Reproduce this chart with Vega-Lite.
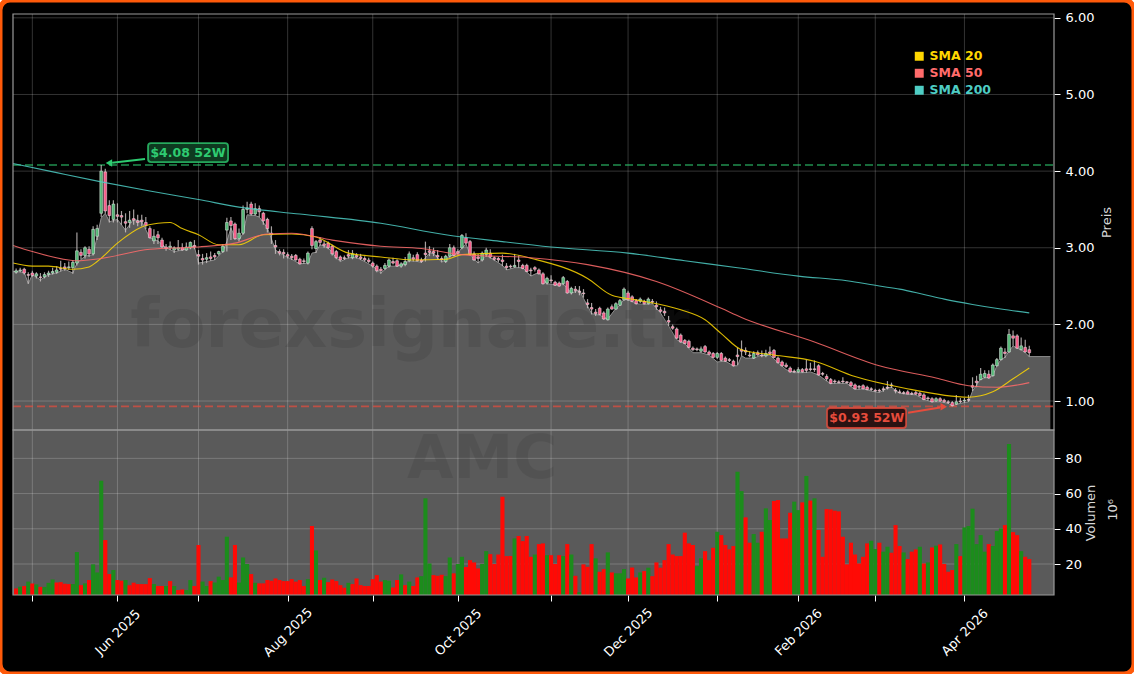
{"$schema":"https://vega.github.io/schema/vega-lite/v6.json","width":1134,"height":674,"autosize":"none","padding":0,"background":"#ffffff",
"config":{"view":{"fill":"#000000","stroke":"#ff5a0a","strokeWidth":5,"cornerRadius":10},"font":"DejaVu Sans"},
"datasets":{
"candles":[
{"i":0,"o":2.68,"h":2.73,"l":2.66,"c":2.7,"v":6.1,"u":0},{"i":1,"o":2.7,"h":2.74,"l":2.68,"c":2.71,"v":7.1,"u":1},{"i":2,"o":2.72,"h":2.74,"l":2.65,"c":2.67,"v":7.5,"u":0},{"i":3,"o":2.65,"h":2.68,"l":2.53,"c":2.64,"v":10,"u":1},{"i":4,"o":2.67,"h":2.7,"l":2.62,"c":2.64,"v":9,"u":0},{"i":5,"o":2.63,"h":2.68,"l":2.6,"c":2.66,"v":8.4,"u":1},{"i":6,"o":2.62,"h":2.67,"l":2.56,"c":2.61,"v":7,"u":0},{"i":7,"o":2.62,"h":2.68,"l":2.6,"c":2.65,"v":7,"u":1},{"i":8,"o":2.65,"h":2.7,"l":2.62,"c":2.67,"v":9.3,"u":1},{"i":9,"o":2.67,"h":2.74,"l":2.65,"c":2.69,"v":11.2,"u":1},
{"i":10,"o":2.68,"h":2.76,"l":2.66,"c":2.71,"v":9.5,"u":0},{"i":11,"o":2.73,"h":2.83,"l":2.69,"c":2.72,"v":9.7,"u":0},{"i":12,"o":2.75,"h":2.8,"l":2.7,"c":2.73,"v":8.8,"u":0},{"i":13,"o":2.74,"h":2.82,"l":2.71,"c":2.75,"v":8.6,"u":0},{"i":14,"o":2.74,"h":2.84,"l":2.66,"c":2.81,"v":8.6,"u":1},{"i":15,"o":2.8,"h":3.2,"l":2.77,"c":2.96,"v":26.8,"u":1},{"i":16,"o":2.94,"h":2.98,"l":2.85,"c":2.9,"v":8,"u":0},{"i":17,"o":2.9,"h":3.02,"l":2.86,"c":3,"v":9,"u":1},{"i":18,"o":2.98,"h":3.02,"l":2.88,"c":2.92,"v":10.9,"u":0},{"i":19,"o":2.92,"h":3.28,"l":2.9,"c":3.24,"v":19.8,"u":1},
{"i":20,"o":3.15,"h":3.3,"l":3.1,"c":3.25,"v":15.2,"u":1},{"i":21,"o":3.45,"h":4.08,"l":3.4,"c":4.0,"v":67.3,"u":1},{"i":22,"o":3.99,"h":4.03,"l":3.45,"c":3.48,"v":33.6,"u":0},{"i":23,"o":3.55,"h":3.62,"l":3.33,"c":3.42,"v":14.3,"u":0},{"i":24,"o":3.37,"h":3.62,"l":3.33,"c":3.57,"v":16.6,"u":1},{"i":25,"o":3.43,"h":3.58,"l":3.33,"c":3.41,"v":10.9,"u":0},{"i":26,"o":3.42,"h":3.48,"l":3.3,"c":3.4,"v":10.5,"u":0},{"i":27,"o":3.34,"h":3.45,"l":3.2,"c":3.32,"v":10.9,"u":1},{"i":28,"o":3.33,"h":3.48,"l":3.26,"c":3.36,"v":8,"u":0},{"i":29,"o":3.38,"h":3.5,"l":3.3,"c":3.36,"v":9.4,"u":0},
{"i":30,"o":3.35,"h":3.43,"l":3.28,"c":3.33,"v":8.6,"u":0},{"i":31,"o":3.36,"h":3.43,"l":3.28,"c":3.34,"v":8.6,"u":0},{"i":32,"o":3.33,"h":3.4,"l":3.24,"c":3.29,"v":8.6,"u":0},{"i":33,"o":3.25,"h":3.28,"l":3.12,"c":3.13,"v":12,"u":0},{"i":34,"o":3.09,"h":3.24,"l":3.05,"c":3.15,"v":8.6,"u":1},{"i":35,"o":3.17,"h":3.22,"l":3.05,"c":3.13,"v":7.5,"u":0},{"i":36,"o":3.1,"h":3.13,"l":3,"c":3.01,"v":7.5,"u":0},{"i":37,"o":3.01,"h":3.05,"l":2.96,"c":2.99,"v":7.5,"u":1},{"i":38,"o":3,"h":3.08,"l":2.97,"c":3.02,"v":10.3,"u":0},{"i":39,"o":2.97,"h":3.02,"l":2.93,"c":3,"v":7.5,"u":1},
{"i":40,"o":2.98,"h":3.1,"l":2.96,"c":3,"v":5.2,"u":0},{"i":41,"o":3,"h":3.06,"l":2.96,"c":2.97,"v":5.6,"u":0},{"i":42,"o":2.97,"h":3.07,"l":2.96,"c":3.01,"v":5.2,"u":1},{"i":43,"o":3,"h":3.08,"l":2.98,"c":3.07,"v":10.9,"u":1},{"i":44,"o":3.03,"h":3.1,"l":2.98,"c":3.01,"v":7.5,"u":0},{"i":45,"o":2.91,"h":2.97,"l":2.78,"c":2.89,"v":30.8,"u":0},{"i":46,"o":2.86,"h":2.92,"l":2.78,"c":2.84,"v":10,"u":1},{"i":47,"o":2.85,"h":2.93,"l":2.8,"c":2.87,"v":7.5,"u":1},{"i":48,"o":2.88,"h":2.95,"l":2.83,"c":2.86,"v":10.3,"u":0},{"i":49,"o":2.9,"h":2.93,"l":2.84,"c":2.88,"v":9.5,"u":1},
{"i":50,"o":2.92,"h":2.96,"l":2.9,"c":2.95,"v":12.8,"u":1},{"i":51,"o":2.95,"h":3.05,"l":2.93,"c":3.02,"v":10.9,"u":1},{"i":52,"o":3.23,"h":3.39,"l":2.95,"c":3.33,"v":35.5,"u":1},{"i":53,"o":3.35,"h":3.4,"l":3.1,"c":3.29,"v":12.4,"u":0},{"i":54,"o":3.31,"h":3.33,"l":3.1,"c":3.12,"v":30.8,"u":0},{"i":55,"o":3.12,"h":3.25,"l":3.08,"c":3.19,"v":9.5,"u":1},{"i":56,"o":3.19,"h":3.55,"l":3.17,"c":3.5,"v":23.7,"u":1},{"i":57,"o":3.5,"h":3.6,"l":3.45,"c":3.52,"v":20,"u":1},{"i":58,"o":3.57,"h":3.6,"l":3.42,"c":3.44,"v":14.3,"u":0},{"i":59,"o":3.44,"h":3.58,"l":3.42,"c":3.51,"v":9.3,"u":1},
{"i":60,"o":3.51,"h":3.55,"l":3.4,"c":3.47,"v":9,"u":0},{"i":61,"o":3.45,"h":3.47,"l":3.3,"c":3.35,"v":9,"u":0},{"i":62,"o":3.37,"h":3.39,"l":3.2,"c":3.25,"v":10.9,"u":0},{"i":63,"o":3.19,"h":3.28,"l":3.05,"c":3.17,"v":10.5,"u":0},{"i":64,"o":3.03,"h":3.1,"l":2.92,"c":3.01,"v":11.8,"u":0},{"i":65,"o":2.95,"h":2.98,"l":2.9,"c":2.93,"v":10.9,"u":0},{"i":66,"o":2.94,"h":2.98,"l":2.86,"c":2.92,"v":10.3,"u":0},{"i":67,"o":2.91,"h":2.94,"l":2.86,"c":2.89,"v":10.3,"u":0},{"i":68,"o":2.89,"h":2.92,"l":2.84,"c":2.87,"v":11.4,"u":0},{"i":69,"o":2.9,"h":2.92,"l":2.83,"c":2.84,"v":10,"u":0},
{"i":70,"o":2.85,"h":2.87,"l":2.78,"c":2.79,"v":10.9,"u":0},{"i":71,"o":2.83,"h":2.86,"l":2.79,"c":2.82,"v":7.5,"u":0},{"i":72,"o":2.8,"h":2.95,"l":2.78,"c":2.93,"v":11.4,"u":1},{"i":73,"o":3.25,"h":3.28,"l":2.98,"c":3.03,"v":41.6,"u":0},{"i":74,"o":2.99,"h":3.1,"l":2.93,"c":3.08,"v":27.7,"u":1},{"i":75,"o":3.1,"h":3.14,"l":3.03,"c":3.07,"v":10.9,"u":0},{"i":76,"o":3.05,"h":3.09,"l":3,"c":3.03,"v":12.2,"u":1},{"i":77,"o":3.06,"h":3.08,"l":2.98,"c":3,"v":9.7,"u":0},{"i":78,"o":3.02,"h":3.04,"l":2.9,"c":2.92,"v":11.2,"u":0},{"i":79,"o":2.95,"h":2.97,"l":2.85,"c":2.87,"v":10.3,"u":0},
{"i":80,"o":2.88,"h":2.9,"l":2.82,"c":2.84,"v":8,"u":0},{"i":81,"o":2.87,"h":2.9,"l":2.84,"c":2.86,"v":6.5,"u":0},{"i":82,"o":2.91,"h":2.97,"l":2.86,"c":2.89,"v":9.3,"u":1},{"i":83,"o":2.87,"h":2.97,"l":2.85,"c":2.92,"v":8.6,"u":0},{"i":84,"o":2.9,"h":2.93,"l":2.86,"c":2.88,"v":11.8,"u":0},{"i":85,"o":2.88,"h":2.92,"l":2.84,"c":2.86,"v":8,"u":0},{"i":86,"o":2.86,"h":2.89,"l":2.82,"c":2.84,"v":7.5,"u":0},{"i":87,"o":2.84,"h":2.87,"l":2.8,"c":2.82,"v":7.5,"u":0},{"i":88,"o":2.8,"h":2.82,"l":2.74,"c":2.76,"v":11.4,"u":0},{"i":89,"o":2.76,"h":2.78,"l":2.68,"c":2.7,"v":13.7,"u":0},
{"i":90,"o":2.72,"h":2.75,"l":2.66,"c":2.7,"v":10,"u":0},{"i":91,"o":2.73,"h":2.8,"l":2.71,"c":2.77,"v":10.9,"u":1},{"i":92,"o":2.76,"h":2.86,"l":2.74,"c":2.84,"v":10.5,"u":1},{"i":93,"o":2.82,"h":2.87,"l":2.78,"c":2.8,"v":6.7,"u":0},{"i":94,"o":2.83,"h":2.85,"l":2.75,"c":2.76,"v":10.9,"u":0},{"i":95,"o":2.76,"h":2.81,"l":2.74,"c":2.79,"v":14.1,"u":1},{"i":96,"o":2.78,"h":2.88,"l":2.76,"c":2.82,"v":8,"u":0},{"i":97,"o":2.83,"h":2.95,"l":2.81,"c":2.92,"v":10,"u":1},{"i":98,"o":2.87,"h":2.91,"l":2.82,"c":2.85,"v":7.5,"u":0},{"i":99,"o":2.91,"h":2.94,"l":2.82,"c":2.83,"v":12.4,"u":0},
{"i":100,"o":2.84,"h":2.87,"l":2.8,"c":2.82,"v":13.1,"u":1},{"i":101,"o":2.93,"h":3.08,"l":2.82,"c":2.91,"v":57.3,"u":1},{"i":102,"o":2.96,"h":3.02,"l":2.89,"c":2.94,"v":20.3,"u":1},{"i":103,"o":2.95,"h":3,"l":2.89,"c":2.93,"v":13.7,"u":0},{"i":104,"o":2.9,"h":2.97,"l":2.84,"c":2.88,"v":13.3,"u":0},{"i":105,"o":2.86,"h":2.89,"l":2.81,"c":2.84,"v":13.9,"u":0},{"i":106,"o":2.82,"h":2.91,"l":2.8,"c":2.89,"v":13.1,"u":1},{"i":107,"o":2.89,"h":3.05,"l":2.87,"c":3,"v":23.7,"u":1},{"i":108,"o":3,"h":3.03,"l":2.89,"c":2.9,"v":14.7,"u":0},{"i":109,"o":2.95,"h":2.98,"l":2.91,"c":2.93,"v":20,"u":1},
{"i":110,"o":3,"h":3.18,"l":2.98,"c":3.16,"v":24.1,"u":1},{"i":111,"o":3.13,"h":3.19,"l":3.05,"c":3.06,"v":18.3,"u":0},{"i":112,"o":3.08,"h":3.1,"l":2.9,"c":2.91,"v":22.2,"u":0},{"i":113,"o":2.92,"h":2.95,"l":2.83,"c":2.84,"v":20.9,"u":0},{"i":114,"o":2.88,"h":2.92,"l":2.8,"c":2.86,"v":17.5,"u":0},{"i":115,"o":2.84,"h":2.95,"l":2.82,"c":2.93,"v":20,"u":1},{"i":116,"o":2.91,"h":3,"l":2.88,"c":2.97,"v":27.3,"u":1},{"i":117,"o":2.93,"h":2.98,"l":2.86,"c":2.88,"v":25.6,"u":0},{"i":118,"o":2.87,"h":2.89,"l":2.83,"c":2.85,"v":20,"u":0},{"i":119,"o":2.86,"h":2.88,"l":2.81,"c":2.84,"v":25.4,"u":0},
{"i":120,"o":2.84,"h":2.91,"l":2.76,"c":2.82,"v":58.2,"u":0},{"i":121,"o":2.76,"h":2.8,"l":2.71,"c":2.74,"v":24.5,"u":0},{"i":122,"o":2.76,"h":2.78,"l":2.73,"c":2.75,"v":24.5,"u":0},{"i":123,"o":2.75,"h":2.92,"l":2.74,"c":2.77,"v":34.5,"u":1},{"i":124,"o":2.84,"h":2.9,"l":2.74,"c":2.82,"v":35.9,"u":0},{"i":125,"o":2.77,"h":2.79,"l":2.72,"c":2.73,"v":33,"u":0},{"i":126,"o":2.77,"h":2.79,"l":2.68,"c":2.69,"v":35.9,"u":0},{"i":127,"o":2.71,"h":2.74,"l":2.63,"c":2.7,"v":24.1,"u":0},{"i":128,"o":2.74,"h":2.76,"l":2.69,"c":2.72,"v":25.4,"u":1},{"i":129,"o":2.71,"h":2.73,"l":2.65,"c":2.66,"v":31.3,"u":0},
{"i":130,"o":2.66,"h":2.68,"l":2.52,"c":2.53,"v":31.7,"u":0},{"i":131,"o":2.54,"h":2.62,"l":2.52,"c":2.6,"v":25,"u":1},{"i":132,"o":2.58,"h":2.64,"l":2.54,"c":2.57,"v":25,"u":0},{"i":133,"o":2.55,"h":2.57,"l":2.5,"c":2.51,"v":20,"u":0},{"i":134,"o":2.54,"h":2.56,"l":2.49,"c":2.5,"v":25,"u":0},{"i":135,"o":2.53,"h":2.63,"l":2.51,"c":2.61,"v":24.5,"u":1},{"i":136,"o":2.56,"h":2.58,"l":2.4,"c":2.41,"v":31.3,"u":0},{"i":137,"o":2.41,"h":2.49,"l":2.39,"c":2.47,"v":25.4,"u":1},{"i":138,"o":2.46,"h":2.5,"l":2.41,"c":2.44,"v":13.3,"u":0},{"i":139,"o":2.43,"h":2.5,"l":2.38,"c":2.42,"v":4,"u":1},
{"i":140,"o":2.41,"h":2.46,"l":2.35,"c":2.4,"v":19.8,"u":0},{"i":141,"o":2.28,"h":2.33,"l":2.21,"c":2.26,"v":18.4,"u":0},{"i":142,"o":2.22,"h":2.28,"l":2.13,"c":2.2,"v":31.3,"u":0},{"i":143,"o":2.16,"h":2.2,"l":2.11,"c":2.14,"v":23.2,"u":1},{"i":144,"o":2.21,"h":2.23,"l":2.12,"c":2.13,"v":15.6,"u":0},{"i":145,"o":2.15,"h":2.17,"l":2.06,"c":2.07,"v":17.1,"u":0},{"i":146,"o":2.06,"h":2.22,"l":2.05,"c":2.2,"v":26.6,"u":1},{"i":147,"o":2.23,"h":2.26,"l":2.19,"c":2.2,"v":15.2,"u":0},{"i":148,"o":2.2,"h":2.29,"l":2.19,"c":2.27,"v":14.7,"u":1},{"i":149,"o":2.25,"h":2.33,"l":2.24,"c":2.31,"v":14.7,"u":1},
{"i":150,"o":2.32,"h":2.48,"l":2.31,"c":2.46,"v":17.1,"u":1},{"i":151,"o":2.41,"h":2.44,"l":2.31,"c":2.32,"v":11.8,"u":0},{"i":152,"o":2.36,"h":2.38,"l":2.29,"c":2.3,"v":18,"u":0},{"i":153,"o":2.31,"h":2.33,"l":2.26,"c":2.27,"v":12.4,"u":0},{"i":154,"o":2.3,"h":2.35,"l":2.28,"c":2.33,"v":15.2,"u":1},{"i":155,"o":2.3,"h":2.32,"l":2.26,"c":2.27,"v":16,"u":0},{"i":156,"o":2.27,"h":2.35,"l":2.26,"c":2.33,"v":17.9,"u":1},{"i":157,"o":2.3,"h":2.33,"l":2.27,"c":2.29,"v":13.1,"u":0},{"i":158,"o":2.25,"h":2.3,"l":2.19,"c":2.23,"v":20.9,"u":0},{"i":159,"o":2.19,"h":2.23,"l":2.15,"c":2.17,"v":17.9,"u":0},
{"i":160,"o":2.17,"h":2.22,"l":2.11,"c":2.15,"v":22.2,"u":0},{"i":161,"o":2.05,"h":2.11,"l":1.98,"c":2.03,"v":31.3,"u":0},{"i":162,"o":1.97,"h":2,"l":1.93,"c":1.95,"v":25.4,"u":0},{"i":163,"o":1.94,"h":1.96,"l":1.81,"c":1.82,"v":24.5,"u":0},{"i":164,"o":1.86,"h":1.88,"l":1.76,"c":1.77,"v":24.5,"u":0},{"i":165,"o":1.79,"h":1.81,"l":1.74,"c":1.75,"v":37.8,"u":0},{"i":166,"o":1.78,"h":1.8,"l":1.69,"c":1.7,"v":31.7,"u":0},{"i":167,"o":1.69,"h":1.71,"l":1.65,"c":1.67,"v":30.8,"u":0},{"i":168,"o":1.68,"h":1.7,"l":1.65,"c":1.67,"v":18.8,"u":1},{"i":169,"o":1.65,"h":1.71,"l":1.63,"c":1.68,"v":23.2,"u":1},
{"i":170,"o":1.71,"h":1.73,"l":1.63,"c":1.64,"v":27.3,"u":0},{"i":171,"o":1.64,"h":1.66,"l":1.6,"c":1.61,"v":22.2,"u":0},{"i":172,"o":1.62,"h":1.64,"l":1.56,"c":1.57,"v":29.2,"u":0},{"i":173,"o":1.57,"h":1.64,"l":1.55,"c":1.62,"v":38.3,"u":1},{"i":174,"o":1.62,"h":1.64,"l":1.52,"c":1.53,"v":36.4,"u":0},{"i":175,"o":1.56,"h":1.58,"l":1.51,"c":1.52,"v":30.8,"u":0},{"i":176,"o":1.54,"h":1.56,"l":1.51,"c":1.53,"v":28.3,"u":0},{"i":177,"o":1.52,"h":1.54,"l":1.45,"c":1.46,"v":30.2,"u":0},{"i":178,"o":1.6,"h":1.7,"l":1.47,"c":1.58,"v":72.4,"u":1},{"i":179,"o":1.67,"h":1.79,"l":1.59,"c":1.65,"v":61.4,"u":1},
{"i":180,"o":1.66,"h":1.7,"l":1.6,"c":1.64,"v":46.5,"u":0},{"i":181,"o":1.6,"h":1.65,"l":1.57,"c":1.59,"v":32.1,"u":0},{"i":182,"o":1.56,"h":1.65,"l":1.55,"c":1.62,"v":37,"u":1},{"i":183,"o":1.63,"h":1.66,"l":1.59,"c":1.6,"v":32.1,"u":1},{"i":184,"o":1.6,"h":1.66,"l":1.57,"c":1.59,"v":38.3,"u":0},{"i":185,"o":1.59,"h":1.67,"l":1.57,"c":1.62,"v":51.6,"u":1},{"i":186,"o":1.64,"h":1.71,"l":1.6,"c":1.62,"v":45,"u":1},{"i":187,"o":1.66,"h":1.68,"l":1.56,"c":1.57,"v":55.8,"u":0},{"i":188,"o":1.56,"h":1.58,"l":1.49,"c":1.5,"v":56.3,"u":0},{"i":189,"o":1.51,"h":1.53,"l":1.45,"c":1.46,"v":34.5,"u":0},
{"i":190,"o":1.47,"h":1.5,"l":1.43,"c":1.45,"v":34.5,"u":0},{"i":191,"o":1.43,"h":1.45,"l":1.37,"c":1.38,"v":49.1,"u":0},{"i":192,"o":1.39,"h":1.41,"l":1.37,"c":1.38,"v":55.4,"u":1},{"i":193,"o":1.38,"h":1.44,"l":1.37,"c":1.41,"v":50.6,"u":1},{"i":194,"o":1.41,"h":1.43,"l":1.37,"c":1.38,"v":55,"u":0},{"i":195,"o":1.42,"h":1.54,"l":1.37,"c":1.4,"v":70,"u":1},{"i":196,"o":1.42,"h":1.5,"l":1.39,"c":1.41,"v":56,"u":0},{"i":197,"o":1.42,"h":1.53,"l":1.38,"c":1.41,"v":57.3,"u":1},{"i":198,"o":1.46,"h":1.48,"l":1.33,"c":1.34,"v":39.3,"u":0},{"i":199,"o":1.36,"h":1.38,"l":1.33,"c":1.35,"v":24.1,"u":0},
{"i":200,"o":1.32,"h":1.35,"l":1.26,"c":1.29,"v":51.2,"u":0},{"i":201,"o":1.28,"h":1.3,"l":1.22,"c":1.23,"v":51,"u":0},{"i":202,"o":1.26,"h":1.28,"l":1.23,"c":1.25,"v":50.3,"u":0},{"i":203,"o":1.25,"h":1.27,"l":1.23,"c":1.24,"v":49.9,"u":0},{"i":204,"o":1.26,"h":1.31,"l":1.23,"c":1.25,"v":35.5,"u":0},{"i":205,"o":1.25,"h":1.26,"l":1.23,"c":1.24,"v":19.8,"u":0},{"i":206,"o":1.24,"h":1.26,"l":1.19,"c":1.2,"v":32.1,"u":0},{"i":207,"o":1.21,"h":1.23,"l":1.15,"c":1.16,"v":25.4,"u":0},{"i":208,"o":1.19,"h":1.21,"l":1.15,"c":1.18,"v":20.3,"u":0},{"i":209,"o":1.2,"h":1.22,"l":1.15,"c":1.16,"v":24.1,"u":0},
{"i":210,"o":1.18,"h":1.2,"l":1.14,"c":1.15,"v":31.7,"u":0},{"i":211,"o":1.16,"h":1.18,"l":1.13,"c":1.15,"v":33.2,"u":1},{"i":212,"o":1.14,"h":1.16,"l":1.12,"c":1.13,"v":28.5,"u":1},{"i":213,"o":1.14,"h":1.16,"l":1.11,"c":1.13,"v":32.1,"u":0},{"i":214,"o":1.16,"h":1.19,"l":1.12,"c":1.15,"v":27,"u":1},{"i":215,"o":1.18,"h":1.26,"l":1.15,"c":1.17,"v":29.8,"u":1},{"i":216,"o":1.21,"h":1.24,"l":1.17,"c":1.2,"v":26.4,"u":0},{"i":217,"o":1.14,"h":1.17,"l":1.1,"c":1.13,"v":42.1,"u":0},{"i":218,"o":1.12,"h":1.15,"l":1.1,"c":1.11,"v":30.2,"u":0},{"i":219,"o":1.11,"h":1.13,"l":1.09,"c":1.1,"v":26.6,"u":1},
{"i":220,"o":1.12,"h":1.14,"l":1.09,"c":1.09,"v":22.8,"u":0},{"i":221,"o":1.1,"h":1.12,"l":1.08,"c":1.09,"v":27,"u":0},{"i":222,"o":1.11,"h":1.13,"l":1.08,"c":1.09,"v":28.3,"u":0},{"i":223,"o":1.1,"h":1.12,"l":1.06,"c":1.07,"v":29.8,"u":1},{"i":224,"o":1.08,"h":1.1,"l":1.01,"c":1.02,"v":20.3,"u":0},{"i":225,"o":1.04,"h":1.06,"l":1.01,"c":1.03,"v":20.9,"u":1},{"i":226,"o":1.03,"h":1.05,"l":0.98,"c":0.99,"v":29.4,"u":0},{"i":227,"o":1.0,"h":1.05,"l":0.99,"c":1.03,"v":30.4,"u":1},{"i":228,"o":1.03,"h":1.05,"l":0.99,"c":1.0,"v":31.1,"u":0},{"i":229,"o":1.01,"h":1.03,"l":0.98,"c":0.99,"v":20,"u":0},
{"i":230,"o":0.99,"h":1.01,"l":0.96,"c":0.98,"v":15.6,"u":0},{"i":231,"o":0.98,"h":1,"l":0.93,"c":0.94,"v":16.6,"u":0},{"i":232,"o":0.96,"h":1.08,"l":0.95,"c":0.99,"v":31.3,"u":1},{"i":233,"o":1,"h":1.04,"l":0.97,"c":0.99,"v":24.5,"u":0},{"i":234,"o":1,"h":1.04,"l":0.98,"c":1.01,"v":40.8,"u":1},{"i":235,"o":1.02,"h":1.08,"l":0.99,"c":1.01,"v":41.6,"u":1},{"i":236,"o":1.2,"h":1.31,"l":1.13,"c":1.18,"v":51.4,"u":1},{"i":237,"o":1.26,"h":1.33,"l":1.18,"c":1.24,"v":31.3,"u":1},{"i":238,"o":1.28,"h":1.43,"l":1.27,"c":1.35,"v":36.4,"u":1},{"i":239,"o":1.31,"h":1.4,"l":1.3,"c":1.36,"v":27,"u":1},
{"i":240,"o":1.35,"h":1.4,"l":1.29,"c":1.3,"v":31.3,"u":0},{"i":241,"o":1.33,"h":1.49,"l":1.32,"c":1.47,"v":30.2,"u":1},{"i":242,"o":1.46,"h":1.56,"l":1.45,"c":1.54,"v":38.7,"u":1},{"i":243,"o":1.54,"h":1.71,"l":1.53,"c":1.69,"v":40.2,"u":1},{"i":244,"o":1.64,"h":1.69,"l":1.56,"c":1.62,"v":42.1,"u":0},{"i":245,"o":1.64,"h":1.94,"l":1.63,"c":1.87,"v":88.1,"u":1},{"i":246,"o":1.85,"h":1.92,"l":1.72,"c":1.82,"v":38.1,"u":0},{"i":247,"o":1.85,"h":1.87,"l":1.68,"c":1.69,"v":36.4,"u":0},{"i":248,"o":1.67,"h":1.83,"l":1.66,"c":1.72,"v":27.3,"u":1},{"i":249,"o":1.7,"h":1.8,"l":1.63,"c":1.64,"v":24.1,"u":0},
{"i":250,"o":1.67,"h":1.72,"l":1.58,"c":1.63,"v":22.8,"u":0}],
"area":[{"i":-0.77,"p":2.69},{"i":0,"p":2.69},{"i":2,"p":2.68},{"i":3,"p":2.53},{"i":4,"p":2.65},{"i":6,"p":2.58},{"i":8,"p":2.65},{"i":10,"p":2.67},{"i":12,"p":2.72},{"i":14,"p":2.67},{"i":15,"p":2.8},{"i":17,"p":2.89},{"i":19,"p":2.91},{"i":21,"p":3.39},{"i":22,"p":3.45},{"i":23,"p":3.34},{"i":25,"p":3.37},{"i":27,"p":3.23},{"i":29,"p":3.37},{"i":31,"p":3.34},{"i":33,"p":3.13},{"i":35,"p":3.09},{"i":37,"p":3},{"i":39,"p":2.95},{"i":41,"p":2.97},{"i":43,"p":3.02},{"i":44,"p":3.01},{"i":45,"p":2.8},{"i":47,"p":2.82},{"i":49,"p":2.84},{"i":51,"p":2.95},{"i":52,"p":3.08},{"i":53,"p":3.26},{"i":54,"p":3.13},{"i":55,"p":3.1},{"i":56,"p":3.19},{"i":57,"p":3.43},{"i":59,"p":3.42},{"i":60,"p":3.4},{"i":62,"p":3.26},{"i":64,"p":2.97},{"i":66,"p":2.9},{"i":68,"p":2.85},{"i":70,"p":2.79},{"i":72,"p":2.8},{"i":73,"p":2.93},{"i":74,"p":2.94},{"i":75,"p":3.04},{"i":77,"p":3},{"i":79,"p":2.87},{"i":80,"p":2.82},{"i":82,"p":2.87},{"i":84,"p":2.87},{"i":86,"p":2.82},{"i":88,"p":2.76},{"i":90,"p":2.67},{"i":92,"p":2.76},{"i":94,"p":2.76},{"i":96,"p":2.8},{"i":97,"p":2.83},{"i":99,"p":2.82},{"i":100,"p":2.81},{"i":102,"p":2.93},{"i":103,"p":2.93},{"i":105,"p":2.81},{"i":107,"p":2.89},{"i":109,"p":2.93},{"i":110,"p":3},{"i":111,"p":3.05},{"i":112,"p":2.91},{"i":114,"p":2.8},{"i":116,"p":2.9},{"i":118,"p":2.84},{"i":120,"p":2.77},{"i":121,"p":2.71},{"i":123,"p":2.74},{"i":125,"p":2.74},{"i":127,"p":2.63},{"i":129,"p":2.68},{"i":131,"p":2.53},{"i":133,"p":2.52},{"i":135,"p":2.53},{"i":137,"p":2.41},{"i":139,"p":2.45},{"i":140,"p":2.34},{"i":142,"p":2.14},{"i":144,"p":2.12},{"i":146,"p":2.07},{"i":148,"p":2.21},{"i":149,"p":2.25},{"i":150,"p":2.33},{"i":151,"p":2.32},{"i":153,"p":2.27},{"i":155,"p":2.26},{"i":157,"p":2.27},{"i":159,"p":2.15},{"i":161,"p":1.98},{"i":163,"p":1.8},{"i":165,"p":1.75},{"i":167,"p":1.63},{"i":169,"p":1.63},{"i":171,"p":1.6},{"i":173,"p":1.51},{"i":175,"p":1.52},{"i":177,"p":1.46},{"i":178,"p":1.46},{"i":179,"p":1.59},{"i":180,"p":1.56},{"i":182,"p":1.56},{"i":184,"p":1.6},{"i":186,"p":1.6},{"i":188,"p":1.5},{"i":190,"p":1.41},{"i":192,"p":1.37},{"i":194,"p":1.37},{"i":196,"p":1.38},{"i":198,"p":1.34},{"i":200,"p":1.26},{"i":201,"p":1.23},{"i":203,"p":1.23},{"i":205,"p":1.23},{"i":207,"p":1.15},{"i":209,"p":1.16},{"i":211,"p":1.13},{"i":213,"p":1.11},{"i":215,"p":1.17},{"i":216,"p":1.18},{"i":218,"p":1.1},{"i":220,"p":1.09},{"i":222,"p":1.08},{"i":224,"p":1.02},{"i":226,"p":0.99},{"i":228,"p":0.99},{"i":230,"p":0.97},{"i":231,"p":0.94},{"i":233,"p":0.97},{"i":235,"p":0.99},{"i":236,"p":1.13},{"i":238,"p":1.29},{"i":240,"p":1.31},{"i":241,"p":1.33},{"i":242,"p":1.46},{"i":243,"p":1.54},{"i":244,"p":1.57},{"i":245,"p":1.65},{"i":246,"p":1.72},{"i":247,"p":1.69},{"i":248,"p":1.67},{"i":249,"p":1.63},{"i":250,"p":1.58},{"i":255.2,"p":1.58}],
"sma":[
{"i":-0.77,"s":"SMA 20","p":2.8},{"i":4,"s":"SMA 20","p":2.76},{"i":8,"s":"SMA 20","p":2.76},{"i":14,"s":"SMA 20","p":2.72},{"i":18,"s":"SMA 20","p":2.75},{"i":20,"s":"SMA 20","p":2.82},{"i":25,"s":"SMA 20","p":3.06},{"i":31,"s":"SMA 20","p":3.27},{"i":35,"s":"SMA 20","p":3.32},{"i":38,"s":"SMA 20","p":3.33},{"i":41,"s":"SMA 20","p":3.25},{"i":45,"s":"SMA 20","p":3.17},{"i":50,"s":"SMA 20","p":3.04},{"i":55,"s":"SMA 20","p":3.04},{"i":61,"s":"SMA 20","p":3.17},{"i":68,"s":"SMA 20","p":3.18},{"i":74,"s":"SMA 20","p":3.14},{"i":82,"s":"SMA 20","p":2.93},{"i":90,"s":"SMA 20","p":2.88},{"i":98,"s":"SMA 20","p":2.84},{"i":106,"s":"SMA 20","p":2.85},{"i":110,"s":"SMA 20","p":2.91},{"i":120,"s":"SMA 20","p":2.93},{"i":128,"s":"SMA 20","p":2.85},{"i":141,"s":"SMA 20","p":2.6},{"i":147,"s":"SMA 20","p":2.38},{"i":153,"s":"SMA 20","p":2.32},{"i":164,"s":"SMA 20","p":2.19},{"i":170,"s":"SMA 20","p":2.06},{"i":174,"s":"SMA 20","p":1.88},{"i":179,"s":"SMA 20","p":1.67},{"i":187,"s":"SMA 20","p":1.6},{"i":197,"s":"SMA 20","p":1.52},{"i":207,"s":"SMA 20","p":1.32},{"i":219,"s":"SMA 20","p":1.17},{"i":235,"s":"SMA 20","p":1.05},{"i":241,"s":"SMA 20","p":1.12},{"i":246,"s":"SMA 20","p":1.29},{"i":250,"s":"SMA 20","p":1.43},
{"i":-0.77,"s":"SMA 50","p":3.03},{"i":4,"s":"SMA 50","p":2.95},{"i":13,"s":"SMA 50","p":2.84},{"i":15,"s":"SMA 50","p":2.83},{"i":21,"s":"SMA 50","p":2.86},{"i":33,"s":"SMA 50","p":2.98},{"i":45,"s":"SMA 50","p":3.01},{"i":54,"s":"SMA 50","p":3.06},{"i":62,"s":"SMA 50","p":3.18},{"i":68,"s":"SMA 50","p":3.19},{"i":78,"s":"SMA 50","p":3.1},{"i":90,"s":"SMA 50","p":3.02},{"i":100,"s":"SMA 50","p":2.99},{"i":110,"s":"SMA 50","p":2.91},{"i":127,"s":"SMA 50","p":2.87},{"i":141,"s":"SMA 50","p":2.78},{"i":158,"s":"SMA 50","p":2.56},{"i":174,"s":"SMA 50","p":2.21},{"i":179,"s":"SMA 50","p":2.09},{"i":197,"s":"SMA 50","p":1.77},{"i":213,"s":"SMA 50","p":1.46},{"i":227,"s":"SMA 50","p":1.3},{"i":235,"s":"SMA 50","p":1.2},{"i":242,"s":"SMA 50","p":1.18},{"i":250,"s":"SMA 50","p":1.24},
{"i":-0.77,"s":"SMA 200","p":4.1},{"i":10,"s":"SMA 200","p":3.98},{"i":21,"s":"SMA 200","p":3.86},{"i":33,"s":"SMA 200","p":3.74},{"i":45,"s":"SMA 200","p":3.63},{"i":55,"s":"SMA 200","p":3.53},{"i":70,"s":"SMA 200","p":3.44},{"i":90,"s":"SMA 200","p":3.32},{"i":106,"s":"SMA 200","p":3.17},{"i":120,"s":"SMA 200","p":3.08},{"i":132,"s":"SMA 200","p":3.01},{"i":151,"s":"SMA 200","p":2.93},{"i":165,"s":"SMA 200","p":2.83},{"i":178,"s":"SMA 200","p":2.74},{"i":193,"s":"SMA 200","p":2.63},{"i":205,"s":"SMA 200","p":2.57},{"i":213,"s":"SMA 200","p":2.5},{"i":218,"s":"SMA 200","p":2.46},{"i":224,"s":"SMA 200","p":2.39},{"i":229,"s":"SMA 200","p":2.33},{"i":236,"s":"SMA 200","p":2.26},{"i":243,"s":"SMA 200","p":2.2},{"i":250,"s":"SMA 200","p":2.15}],
"ticks":[{"i":4},{"i":25},{"i":45},{"i":67},{"i":88},{"i":109},{"i":132},{"i":151},{"i":173},{"i":193},{"i":212},{"i":234}]
},
"resolve":{"scale":{"y":"independent"},"axis":{"y":"independent"}},
"layer":[
{"layer":[
{"data":{"name":"area"},"mark":{"type":"area","color":"#5a5a5a"},"encoding":{
"x":{"field":"i","type":"quantitative","title":null,"scale":{"domain":[-0.77,256.1],"range":[13,1054],"nice":false,"zero":false,"padding":0},"axis":{"values":[4,25,45,67,88,109,132,151,173,193,212,234],"orient":"bottom","offset":-79,"grid":false,"domain":false,"tickColor":"#ffffff","tickSize":6,"labelColor":"#ffffff","labelFontSize":13,"labelFont":"DejaVu Sans","labelAngle":-45,"labelAlign":"center","labelBaseline":"middle","labelPadding":31,"labelOverlap":false,"labelFlush":false,"labelBound":false,"labelExpr":"({25:'Jun 2025',67:'Aug 2025',109:'Oct 2025',151:'Dec 2025',193:'Feb 2026',234:'Apr 2026'})[datum.value]||''"}},
"y":{"field":"p","type":"quantitative","title":"Preis","scale":{"domain":[0.622,6.05],"range":[430,14],"nice":false,"zero":false},"axis":{"orient":"right","offset":-80,"values":[1,2,3,4,5,6],"format":".2f","grid":false,"domain":false,"tickColor":"#ffffff","tickSize":6,"labelColor":"#ffffff","labelFontSize":13,"labelFont":"DejaVu Sans","labelPadding":5,"titleColor":"#d8d8d8","titleFontSize":13,"titleFont":"DejaVu Sans","titleFontWeight":"normal","titlePadding":20,"titleAngle":270}},
"y2":{"datum":0.622}}},
{"data":{"name":"area"},"mark":{"type":"line","color":"#8e8e8e","strokeWidth":1},"encoding":{"x":{"field":"i","type":"quantitative"},"y":{"field":"p","type":"quantitative"}}},
{"data":{"name":"ticks"},"mark":{"type":"rule","color":"#ffffff","opacity":0.2,"strokeWidth":1},"encoding":{"x":{"field":"i","type":"quantitative"},"y":{"datum":0.622},"y2":{"datum":6.05}}},
{"data":{"values":[{"p":1},{"p":2},{"p":3},{"p":4},{"p":5},{"p":6}]},"mark":{"type":"rule","color":"#ffffff","opacity":0.2,"strokeWidth":1},"encoding":{"y":{"field":"p","type":"quantitative"},"x":{"datum":-0.77},"x2":{"datum":256.1}}},
{"data":{"values":[{"t":"forexsignale.tr","i":97.2,"p":1.96}]},"mark":{"type":"text","font":"DejaVu Sans","fontWeight":"bold","fontSize":67,"color":"#333333","opacity":0.2,"baseline":"middle","align":"center"},"encoding":{"x":{"field":"i","type":"quantitative"},"y":{"field":"p","type":"quantitative"},"text":{"field":"t"}}},
{"data":{"values":[{"p":4.08}]},"mark":{"type":"rule","strokeWidth":1.6,"strokeDash":[8,4],"opacity":0.7,"color":"#2ecc71"},"encoding":{"y":{"field":"p","type":"quantitative"},"x":{"datum":-0.77},"x2":{"datum":256.1}}},
{"data":{"values":[{"p":0.93}]},"mark":{"type":"rule","strokeWidth":1.6,"strokeDash":[8,4],"opacity":0.7,"color":"#e74c3c"},"encoding":{"y":{"field":"p","type":"quantitative"},"x":{"datum":-0.77},"x2":{"datum":256.1}}},
{"data":{"name":"candles"},"mark":{"type":"rule","color":"#cfc8c8","strokeWidth":1.2,"opacity":0.8},"encoding":{"x":{"field":"i","type":"quantitative"},"y":{"field":"l","type":"quantitative"},"y2":{"field":"h"}}},
{"data":{"name":"candles"},"mark":{"type":"bar","size":2.8,"stroke":"#ececec","strokeWidth":0.5},"encoding":{"x":{"field":"i","type":"quantitative"},"y":{"field":"o","type":"quantitative"},"y2":{"field":"c"},"fill":{"condition":{"test":"datum.c>=datum.o","value":"#55b877"},"value":"#f85a88"}}},
{"data":{"name":"sma"},"mark":{"type":"line","strokeWidth":1.1,"opacity":0.85,"interpolate":"monotone"},"encoding":{"x":{"field":"i","type":"quantitative"},"y":{"field":"p","type":"quantitative"},"color":{"field":"s","type":"nominal","scale":{"domain":["SMA 20","SMA 50","SMA 200"],"range":["#ffd700","#ff6b6b","#4ecdc4"]},"legend":{"title":null,"orient":"none","legendX":913,"legendY":50,"padding":0,"symbolType":"square","symbolSize":80,"symbolStrokeWidth":0,"symbolOpacity":1,"labelFont":"DejaVu Sans","labelFontWeight":"bold","labelFontSize":12.5,"labelOffset":4,"rowPadding":4,"encode":{"labels":{"update":{"fill":{"scale":"color","field":"value"}}},"symbols":{"update":{"fill":{"scale":"color","field":"value"},"opacity":{"value":1}}}}}}}},
{"data":{"values":[{"a":32.55,"b":52.3,"p1":4.365,"p2":4.118}]},"mark":{"type":"rect","cornerRadius":3,"strokeWidth":1.8,"fill":"#0e3a20","stroke":"#2ecc71","strokeOpacity":0.8},"encoding":{"x":{"field":"a","type":"quantitative"},"x2":{"field":"b"},"y":{"field":"p1","type":"quantitative"},"y2":{"field":"p2"}}},
{"data":{"values":[{"a":200.1,"b":219.6,"p1":0.909,"p2":0.648}]},"mark":{"type":"rect","cornerRadius":3,"strokeWidth":1.8,"fill":"#2a1212","stroke":"#e74c3c","strokeOpacity":0.8},"encoding":{"x":{"field":"a","type":"quantitative"},"x2":{"field":"b"},"y":{"field":"p1","type":"quantitative"},"y2":{"field":"p2"}}},
{"data":{"values":[{"t":"$4.08 52W","a":42.4,"p":4.24}]},"mark":{"type":"text","font":"DejaVu Sans","fontWeight":"bold","fontSize":12.5,"align":"center","baseline":"middle","color":"#2ecc71"},"encoding":{"x":{"field":"a","type":"quantitative"},"y":{"field":"p","type":"quantitative"},"text":{"field":"t"}}},
{"data":{"values":[{"t":"$0.93 52W","a":209.9,"p":0.776}]},"mark":{"type":"text","font":"DejaVu Sans","fontWeight":"bold","fontSize":12.5,"align":"center","baseline":"middle","color":"#e74c3c"},"encoding":{"x":{"field":"a","type":"quantitative"},"y":{"field":"p","type":"quantitative"},"text":{"field":"t"}}},
{"data":{"values":[{"i":31.8,"p":4.157},{"i":23.7,"p":4.11}]},"mark":{"type":"line","color":"#2ecc71","strokeWidth":2},"encoding":{"x":{"field":"i","type":"quantitative"},"y":{"field":"p","type":"quantitative"}}},
{"data":{"values":[{"i":220.1,"p":0.847},{"i":228,"p":0.915}]},"mark":{"type":"line","color":"#e74c3c","strokeWidth":2},"encoding":{"x":{"field":"i","type":"quantitative"},"y":{"field":"p","type":"quantitative"}}},
{"data":{"values":[{"i":22.9,"p":4.105}]},"mark":{"type":"point","shape":"triangle-left","size":55,"filled":true,"color":"#2ecc71","opacity":1},"encoding":{"x":{"field":"i","type":"quantitative"},"y":{"field":"p","type":"quantitative"}}},
{"data":{"values":[{"i":228.9,"p":0.925}]},"mark":{"type":"point","shape":"triangle-right","size":55,"filled":true,"color":"#e74c3c","opacity":1},"encoding":{"x":{"field":"i","type":"quantitative"},"y":{"field":"p","type":"quantitative"}}}
]},
{"layer":[
{"data":{"values":[{"z":1}]},"mark":{"type":"rect","fill":"#5a5a5a"},"encoding":{"x":{"datum":-0.77},"x2":{"datum":256.1},"y":{"datum":2.4,"scale":{"domain":[2.4,96.1],"range":[595,430],"nice":false,"zero":false},"title":"Volumen","axis":{"orient":"right","offset":-80,"values":[20,40,60,80],"grid":false,"domain":false,"tickColor":"#ffffff","tickSize":6,"labelColor":"#ffffff","labelFontSize":13,"labelFont":"DejaVu Sans","labelPadding":5,"titleColor":"#d8d8d8","titleFontSize":13,"titleFont":"DejaVu Sans","titleFontWeight":"normal","titlePadding":16,"titleAngle":270}},"y2":{"datum":96.1}}},
{"data":{"name":"ticks"},"mark":{"type":"rule","color":"#ffffff","opacity":0.2,"strokeWidth":1},"encoding":{"x":{"field":"i","type":"quantitative"},"y":{"datum":2.4,"title":"Volumen"},"y2":{"datum":96.1}}},
{"data":{"values":[{"v":20},{"v":40},{"v":60},{"v":80}]},"mark":{"type":"rule","color":"#ffffff","opacity":0.2,"strokeWidth":1},"encoding":{"y":{"field":"v","type":"quantitative","title":"Volumen"},"x":{"datum":-0.77},"x2":{"datum":256.1}}},
{"data":{"values":[{"t":"AMC","i":115,"v":78.8}]},"mark":{"type":"text","font":"DejaVu Sans","fontWeight":"bold","fontSize":60,"color":"#333333","opacity":0.18,"baseline":"middle","align":"center"},"encoding":{"x":{"field":"i","type":"quantitative"},"y":{"field":"v","type":"quantitative","title":"Volumen"},"text":{"field":"t"}}},
{"data":{"name":"candles"},"mark":{"type":"bar","size":4.1},"encoding":{"x":{"field":"i","type":"quantitative"},"y":{"field":"v","type":"quantitative","title":"Volumen"},"y2":{"datum":2.4},"fill":{"condition":{"test":"datum.u==1","value":"#1c8c1c"},"value":"#ff0a05"}}},
{"data":{"values":[{"t":"10⁶","i":270.7,"v":50.7}]},"mark":{"type":"text","font":"DejaVu Sans","fontSize":13,"color":"#d8d8d8","angle":270,"align":"center","baseline":"middle"},"encoding":{"x":{"field":"i","type":"quantitative"},"y":{"field":"v","type":"quantitative","title":"Volumen"},"text":{"field":"t"}}},
{"data":{"values":[{"z":1}]},"mark":{"type":"rect","fill":null,"stroke":"#9a9a9a","strokeWidth":1.2},"encoding":{"x":{"datum":-0.77},"x2":{"datum":256.1},"y":{"datum":2.4,"title":"Volumen"},"y2":{"datum":96.1}}}
]},
{"layer":[
{"data":{"values":[{"z":1}]},"mark":{"type":"rect","fill":null,"stroke":"#9a9a9a","strokeWidth":1.2},"encoding":{"x":{"datum":-0.77},"x2":{"datum":256.1},"y":{"datum":0.622,"scale":{"domain":[0.622,6.05],"range":[430,14],"nice":false,"zero":false},"axis":null},"y2":{"datum":6.05}}}
]}
]}
